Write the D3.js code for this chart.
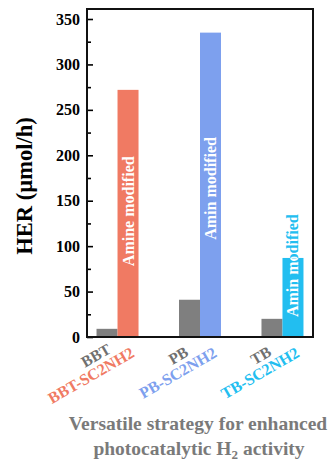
<!DOCTYPE html>
<html>
<head>
<meta charset="utf-8">
<script src="https://cdn.jsdelivr.net/npm/d3@7"></script>
<style>
  body { margin: 0; background: #fff; }
  text { font-family: "Liberation Serif", "Times New Roman", serif; font-weight: bold; }
</style>
</head>
<body>
<svg id="chart" width="328" height="466"></svg>
<script>
// H2 evolution rates (µmol/h) for the parent polymers and their amine-modified versions
const groups = ["BBT", "PB", "TB"];
const modifiedNames = ["BBT-SC2NH2", "PB-SC2NH2", "TB-SC2NH2"];
const baseValues = [9, 41, 20];
const modifiedValues = [272, 335, 87];
const barLabels = ["Amine modified", "Amin modified", "Amin modified"];
const modifiedColors = ["#F07A63", "#7DA0EE", "#22BEF0"];
const baseColor = "#7F7F7F";
const majorTicks = [0, 50, 100, 150, 200, 250, 300, 350];
const minorTicks = [25, 75, 125, 175, 225, 275, 325];

const svg = d3.select("#chart");
const plot = { left: 87, right: 313, top: 9, bottom: 337 };

const x = d3.scalePoint().domain(groups).range([plot.left, plot.right]).padding(0.37);
const inner = d3.scaleBand().domain(["base", "mod"]).range([-21, 21]);
const y = d3.scaleLinear().domain([0, 361]).range([plot.bottom, plot.top]);

const rows = groups.map((g, i) => ({
  group: g, modName: modifiedNames[i], base: baseValues[i], mod: modifiedValues[i],
  label: barLabels[i], color: modifiedColors[i], i
}));

// bars
const gBars = svg.append("g");
gBars.selectAll("rect.base").data(rows).join("rect")
  .attr("class", "base")
  .attr("x", d => x(d.group) + inner("base"))
  .attr("width", inner.bandwidth())
  .attr("y", d => y(d.base))
  .attr("height", d => y(0) - y(d.base))
  .attr("fill", baseColor);

gBars.selectAll("rect.mod").data(rows).join("rect")
  .attr("class", "mod")
  .attr("x", d => x(d.group) + inner("mod"))
  .attr("width", inner.bandwidth())
  .attr("y", d => y(d.mod))
  .attr("height", d => y(0) - y(d.mod))
  .attr("fill", d => d.color);

// clip regions matching each modified bar, so the in-bar text turns white only inside the bar
const defs = svg.append("defs");
rows.forEach(d => {
  defs.append("clipPath").attr("id", "clip" + d.i)
    .append("rect")
    .attr("x", x(d.group) + inner("mod"))
    .attr("width", inner.bandwidth())
    .attr("y", y(d.mod))
    .attr("height", y(0) - y(d.mod));
});

// vertical annotation inside modified bars; start height (in µmol/h) of each label
const labelStart = [78, 107, 22];
rows.forEach(d => {
  const tx = x(d.group) + inner("mod") + inner.bandwidth() / 2 + 5.5;
  const ty = y(labelStart[d.i]);
  const make = (parent, fill) => parent.append("text")
    .attr("transform", `translate(${tx},${ty}) rotate(-90)`)
    .attr("text-anchor", "start")
    .attr("font-size", 16)
    .attr("fill", fill)
    .text(d.label);
  make(svg, d.color);
  make(svg.append("g").attr("clip-path", `url(#clip${d.i})`), "#fff");
});

// y axis: major and minor inward ticks
const yAxis = svg.append("g").attr("transform", `translate(${plot.left},0)`)
  .call(d3.axisLeft(y).tickValues(majorTicks).tickSizeInner(-6).tickSizeOuter(0).tickPadding(7));
yAxis.select(".domain").remove();
yAxis.selectAll("line").attr("stroke", "#000").attr("stroke-width", 1.6);
yAxis.selectAll("text").attr("font-size", 16).attr("fill", "#000")
  .attr("font-family", "'Liberation Serif', 'Times New Roman', serif").attr("font-weight", "bold");

const yMinor = svg.append("g").attr("transform", `translate(${plot.left},0)`)
  .call(d3.axisLeft(y).tickValues(minorTicks).tickSizeInner(-4).tickSizeOuter(0).tickFormat(""));
yMinor.select(".domain").remove();
yMinor.selectAll("line").attr("stroke", "#000").attr("stroke-width", 1.6);

// frame
svg.append("rect")
  .attr("x", plot.left).attr("y", plot.top)
  .attr("width", plot.right - plot.left).attr("height", plot.bottom - plot.top)
  .attr("fill", "none").attr("stroke", "#111").attr("stroke-width", 2);

// y axis title
svg.append("text")
  .attr("transform", `translate(32,186) rotate(-90)`)
  .attr("text-anchor", "middle")
  .attr("font-size", 22.5)
  .attr("fill", "#000")
  .text("HER (µmol/h)");

// slanted category labels
rows.forEach(d => {
  const cx = x(d.group);
  svg.append("text")
    .attr("transform", `translate(${cx - 19},${360}) rotate(-30)`)
    .attr("text-anchor", "middle")
    .attr("font-size", 15.5)
    .attr("fill", "#707070")
    .text(d.group);
  svg.append("text")
    .attr("transform", `translate(${cx + 18},${356}) rotate(-30)`)
    .attr("text-anchor", "end")
    .attr("font-size", 16)
    .attr("fill", d.color)
    .text(d.modName);
});

// caption
const cap = svg.append("text")
  .attr("text-anchor", "middle")
  .attr("font-size", 19.5)
  .attr("fill", "#7a7a7a");
cap.append("tspan").attr("x", 198).attr("y", 430).text("Versatile strategy for enhanced");
cap.append("tspan").attr("x", 199).attr("y", 455).text("photocatalytic H");
cap.append("tspan").attr("dy", 4).attr("font-size", 13).text("2");
cap.append("tspan").attr("dy", -4).text(" activity");
</script>
</body>
</html>
